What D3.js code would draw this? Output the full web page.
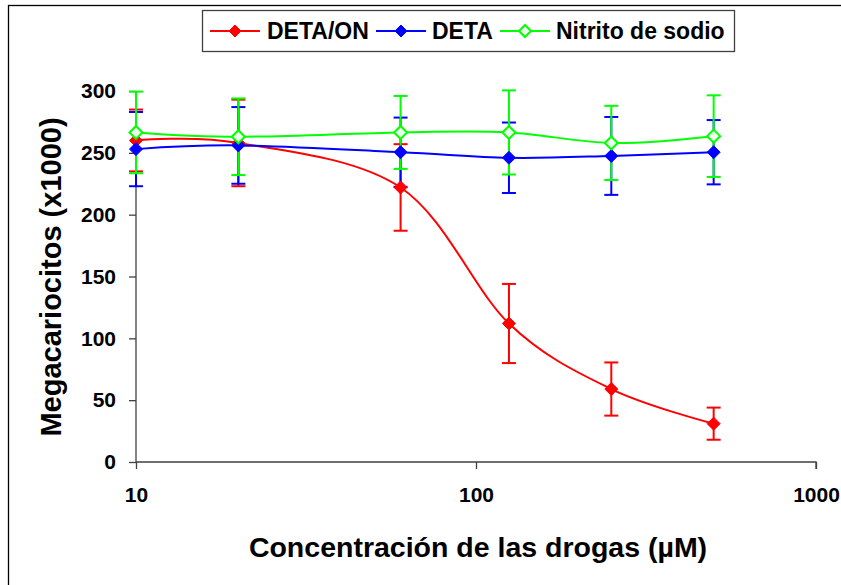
<!DOCTYPE html>
<html>
<head>
<meta charset="utf-8">
<script src="https://cdn.jsdelivr.net/npm/d3@7"></script>
<style>
  html, body { margin: 0; padding: 0; background: #fff; }
  svg { display: block; font-family: "Liberation Sans", Arial, sans-serif; }
</style>
</head>
<body>
<svg id="chart" width="841" height="585"></svg>
<script>
// Drug concentrations (µM)
const concentrations = [10, 20, 60, 125, 250, 500];

// Megakaryocyte counts (x1000) and their error ranges
const detaOn = [260, 258, 222, 112, 59, 31];
const detaOnErr = [25, 35, 35, 32, 21.5, 13];
const deta = [253, 256, 250.5, 246, 247.5, 250.5];
const detaErr = [30, 31, 28, 28.5, 31.5, 26];
const nitrito = [266.5, 263, 266.5, 266.5, 258, 263.5];
const nitritoErr = [33, 31, 29.5, 34, 30, 33];

const seriesNames = ["DETA/ON", "DETA", "Nitrito de sodio"];
const seriesColors = ["#ff0000", "#0000ff", "#00ff00"];

const xTicks = [10, 100, 1000];
const yTicks = [0, 50, 100, 150, 200, 250, 300];

const series = [
  { name: seriesNames[0], color: seriesColors[0], values: detaOn, err: detaOnErr, hollow: false },
  { name: seriesNames[1], color: seriesColors[1], values: deta, err: detaErr, hollow: false },
  { name: seriesNames[2], color: seriesColors[2], values: nitrito, err: nitritoErr, hollow: true }
];

const svg = d3.select("#chart");

// Outer chart frame
svg.append("rect")
  .attr("x", 8.5).attr("y", 5.5)
  .attr("width", 900).attr("height", 700)
  .attr("fill", "none").attr("stroke", "#000").attr("stroke-width", 1.3);

const x = d3.scaleLog().domain([10, 1000]).range([136, 816]);
const y = d3.scaleLinear().domain([0, 300]).range([462, 91]);

const axisColor = "#404040";
const tickFont = 21;

// Y axis
const yAxis = svg.append("g")
  .attr("transform", "translate(136,0)")
  .call(d3.axisLeft(y).tickValues(yTicks).tickSize(7).tickPadding(13).tickFormat(d3.format("d")));
yAxis.select(".domain").attr("stroke", axisColor).attr("stroke-width", 1.3).attr("d", "M0," + y(300) + "V" + y(0));
yAxis.selectAll(".tick line").attr("stroke", axisColor).attr("stroke-width", 1.3);
yAxis.selectAll(".tick text")
  .attr("font-size", tickFont).attr("font-weight", "bold").attr("fill", "#000")
  .attr("font-family", "Liberation Sans, Arial, sans-serif");

// X axis
const xAxis = svg.append("g")
  .attr("transform", "translate(0,462)")
  .call(d3.axisBottom(x).tickValues(xTicks).tickSize(7).tickPadding(18).tickFormat(d3.format("d")));
xAxis.select(".domain").attr("stroke", axisColor).attr("stroke-width", 1.3).attr("d", "M" + x(10) + ",0H" + x(1000) + "V7");
xAxis.selectAll(".tick line").attr("stroke", axisColor).attr("stroke-width", 1.3);
xAxis.selectAll(".tick text")
  .attr("font-size", tickFont).attr("font-weight", "bold").attr("fill", "#000")
  .attr("font-family", "Liberation Sans, Arial, sans-serif");

// Axis titles
svg.append("text")
  .attr("transform", "translate(61,277) rotate(-90)")
  .attr("text-anchor", "middle")
  .attr("font-size", 29).attr("font-weight", "bold")
  .text("Megacariocitos (x1000)");

svg.append("text")
  .attr("x", 478).attr("y", 557)
  .attr("text-anchor", "middle")
  .attr("font-size", 28.5).attr("font-weight", "bold")
  .text("Concentración de las drogas (µM)");

const capHalf = 7;

// Error bars
series.forEach(s => {
  const g = svg.append("g").attr("stroke", s.color).attr("stroke-width", 2).attr("fill", "none");
  concentrations.forEach((c, i) => {
    const cx = x(c);
    const top = y(s.values[i] + s.err[i]);
    const bot = y(s.values[i] - s.err[i]);
    g.append("line").attr("x1", cx).attr("x2", cx).attr("y1", top).attr("y2", bot);
    g.append("line").attr("x1", cx - capHalf).attr("x2", cx + capHalf).attr("y1", top).attr("y2", top);
    g.append("line").attr("x1", cx - capHalf).attr("x2", cx + capHalf).attr("y1", bot).attr("y2", bot);
  });
});

// Smoothed series lines
const line = d3.line()
  .x((d, i) => x(concentrations[i]))
  .y(d => y(d))
  .curve(d3.curveCardinal.tension(0));

series.forEach(s => {
  svg.append("path")
    .attr("d", line(s.values))
    .attr("fill", "none")
    .attr("stroke", s.color)
    .attr("stroke-width", 2);
});

// Diamond markers
function diamond(g, cx, cy, r, s) {
  g.append("path")
    .attr("d", `M${cx},${cy - r}L${cx + r},${cy}L${cx},${cy + r}L${cx - r},${cy}Z`)
    .attr("fill", s.hollow ? "#eaffea" : s.color)
    .attr("stroke", s.color)
    .attr("stroke-width", s.hollow ? 2 : 1);
}

series.forEach(s => {
  const g = svg.append("g");
  concentrations.forEach((c, i) => diamond(g, x(c), y(s.values[i]), 6.5, s));
});

// Legend
const legend = svg.append("g");
legend.append("rect")
  .attr("x", 202.5).attr("y", 10.5).attr("width", 532).attr("height", 41)
  .attr("fill", "#fff").attr("stroke", "#404040").attr("stroke-width", 1.3);

const legendItems = [
  { s: series[0], lx: 210, tx: 267 },
  { s: series[1], lx: 376, tx: 432 },
  { s: series[2], lx: 500, tx: 556 }
];
legendItems.forEach(item => {
  const cy = 31;
  legend.append("line")
    .attr("x1", item.lx).attr("x2", item.lx + 50).attr("y1", cy).attr("y2", cy)
    .attr("stroke", item.s.color).attr("stroke-width", 2);
  diamond(legend, item.lx + 25, cy, 6, item.s);
  legend.append("text")
    .attr("x", item.tx).attr("y", cy + 8)
    .attr("font-size", 23).attr("font-weight", "bold")
    .text(item.s.name);
});
</script>
</body>
</html>
